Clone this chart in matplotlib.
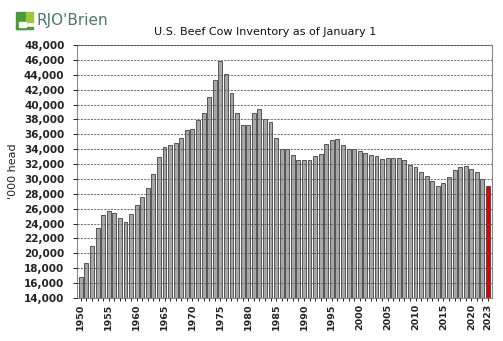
import matplotlib
matplotlib.use('Agg')
import matplotlib.pyplot as plt
from matplotlib.patches import Rectangle

years = list(range(1950, 2024))
# beef cows, '000 head, Jan 1
cows = [16860, 18650, 20980, 23400, 25100, 25720, 25450, 24700, 24240, 25280,
        26440, 27510, 28770, 30640, 32930, 34320, 34630, 34850, 35570, 36590,
        36780, 37990, 38930, 41020, 43260, 45800, 44070, 41560, 38870, 37220,
        37220, 38870, 39370, 38070, 37620, 35570, 34040, 34070, 33240, 32520,
        32520, 32520, 33100, 33420, 34670, 35300, 35430, 34540, 34090, 33960,
        33700, 33520, 33240, 33110, 32700, 32790, 32820, 32790, 32520, 31940,
        31580, 31000, 30460, 29740, 29110, 29470, 30240, 31180, 31630, 31800,
        31360, 30900, 30050, 29070]
tick_years = [1950, 1955, 1960, 1965, 1970, 1975, 1980, 1985, 1990, 1995,
              2000, 2005, 2010, 2015, 2020, 2023]

fig = plt.figure(figsize=(5.03, 3.41), dpi=100)
ax = fig.add_axes([0.153, 0.126, 0.825, 0.742])

x = list(range(len(years)))
colors = ['#a8a8a8'] * (len(years) - 1) + ['#e00000']
ax.bar(x, cows, width=0.7, bottom=0, color=colors, edgecolor='#404040',
       linewidth=0.6, zorder=2)

ax.set_ylim(14000, 48000)
ax.set_xlim(-0.7, len(years) - 0.3)
ax.set_yticks(range(14000, 48001, 2000))
ax.set_yticklabels([f'{v:,}' for v in range(14000, 48001, 2000)],
                   fontsize=7.5, fontweight='bold', color='#222222')
ax.set_xticks(x, minor=True)
ax.set_xticks([years.index(y) for y in tick_years])
ax.set_xticklabels([str(y) for y in tick_years], rotation=90,
                   fontsize=6.8, fontweight='bold', color='#222222')
ax.tick_params(axis='x', which='both', length=2.5, width=0.6, pad=1.5)
ax.tick_params(axis='y', length=3, width=0.6, pad=6)
ax.set_axisbelow(False)
ax.grid(axis='y', linestyle=(0, (2.5, 1.5)), color='#555555', linewidth=0.6, zorder=3)
for s in ax.spines.values():
    s.set_color('#888888')
    s.set_linewidth(0.8)

ax.set_ylabel("'000 head", fontsize=8, color='#222222', labelpad=4)
fig.text(0.527, 0.907, 'U.S. Beef Cow Inventory as of January 1',
         ha='center', va='center', fontsize=8, color='#111111')

# logo
fig.patches.append(Rectangle((0.032, 0.915), 0.034, 0.005, transform=fig.transFigure,
                             color='#4a9a3a'))
fig.patches.append(Rectangle((0.032, 0.915), 0.02, 0.05, transform=fig.transFigure,
                             color='#4a9a3a'))
fig.patches.append(Rectangle((0.052, 0.935), 0.014, 0.03, transform=fig.transFigure,
                             color='#9ac83a'))
fig.patches.append(Rectangle((0.038, 0.921), 0.014, 0.014, transform=fig.transFigure,
                             color='#ffffff'))
fig.text(0.072, 0.94, "RJO'Brien", fontsize=11, color='#4a7a6a', va='center',
         ha='left', family='DejaVu Sans')

fig.savefig('out.png', dpi=100)
